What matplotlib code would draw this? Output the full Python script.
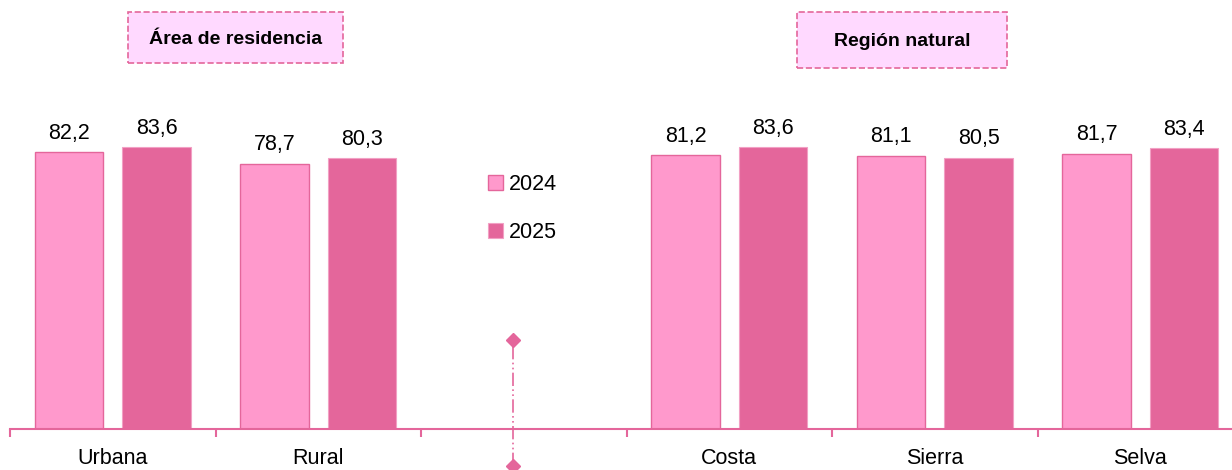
import numpy as np
import matplotlib.pyplot as plt
from matplotlib.patches import Rectangle

categories = ['Urbana', 'Rural', '', 'Costa', 'Sierra', 'Selva']
v2024 = [82.2, 78.7, np.nan, 81.2, 81.1, 81.7]
v2025 = [83.6, 80.3, np.nan, 83.6, 80.5, 83.4]
series = ['2024', '2025']
group_titles = ['Área de residencia', 'Región natural']

c2024 = '#FF99CC'
c2025 = '#E4669B'
edge = '#E4669B'

plt.rcParams['font.family'] = ['Liberation Sans', 'DejaVu Sans']

fig = plt.figure(figsize=(12.32, 4.70), dpi=100)
ax = fig.add_axes([10 / 1232, (470 - 429) / 470, 1233 / 1232, 337 / 470])

x = np.arange(len(categories))
w = 0.335
off = 0.213
b1 = ax.bar(x - off, v2024, w, color=c2024, edgecolor=edge, linewidth=1, label=series[0])
b2 = ax.bar(x + off, v2025, w, color=c2025, edgecolor='#F2A0C4', linewidth=0.8, label=series[1])

for bars, vals in [(b1, v2024), (b2, v2025)]:
    for b, v in zip(bars, vals):
        if np.isnan(v):
            continue
        ax.annotate('{:.1f}'.format(v).replace('.', ','),
                    (b.get_x() + b.get_width() / 2, v),
                    xytext=(0, 6), textcoords='offset points',
                    ha='center', va='bottom', fontsize=15.5)

ax.set_ylim(0, 100)
ax.set_xlim(-0.5, len(categories) - 0.5)
ax.set_yticks([])
for s in ['top', 'right', 'left']:
    ax.spines[s].set_visible(False)
ax.spines['bottom'].set_color(edge)
ax.spines['bottom'].set_linewidth(1.5)

ax.set_xticks(x)
ax.set_xticklabels(categories, fontsize=15.5)
ax.tick_params(axis='x', which='major', length=0, pad=14)
ax.set_xticks(np.arange(len(categories) + 1) - 0.5, minor=True)
ax.tick_params(axis='x', which='minor', length=6, width=1.5, color=edge)

# divider between groups
ax.plot([1.95, 1.95], [-11, 26.5], linestyle=(0, (8, 2, 1, 2, 1, 2)),
        color=edge, linewidth=1.2, clip_on=False)
ax.plot([1.95, 1.95], [26.5, -11], linestyle='none', marker='D',
        markersize=7, color=edge, clip_on=False)

ax.legend(loc='upper left', bbox_to_anchor=(0.372, 0.815), frameon=False,
          fontsize=15.5, handlelength=0.7, handleheight=0.7,
          handletextpad=0.25, labelspacing=1.25)

# group title boxes
for (x0, y0, bw, bh), title in zip([(128, 12, 215, 51), (797, 12, 210, 56)], group_titles):
    fig.add_artist(Rectangle((x0 / 1232, 1 - (y0 + bh) / 470), bw / 1232, bh / 470,
                             transform=fig.transFigure, facecolor='#FFD9FF',
                             edgecolor=edge, linestyle='--', linewidth=1.2))
    fig.text((x0 + bw / 2) / 1232, 1 - (y0 + bh / 2 + 2) / 470, title,
             ha='center', va='center', fontsize=14, fontweight='bold')

plt.savefig('out.png', dpi=100)
